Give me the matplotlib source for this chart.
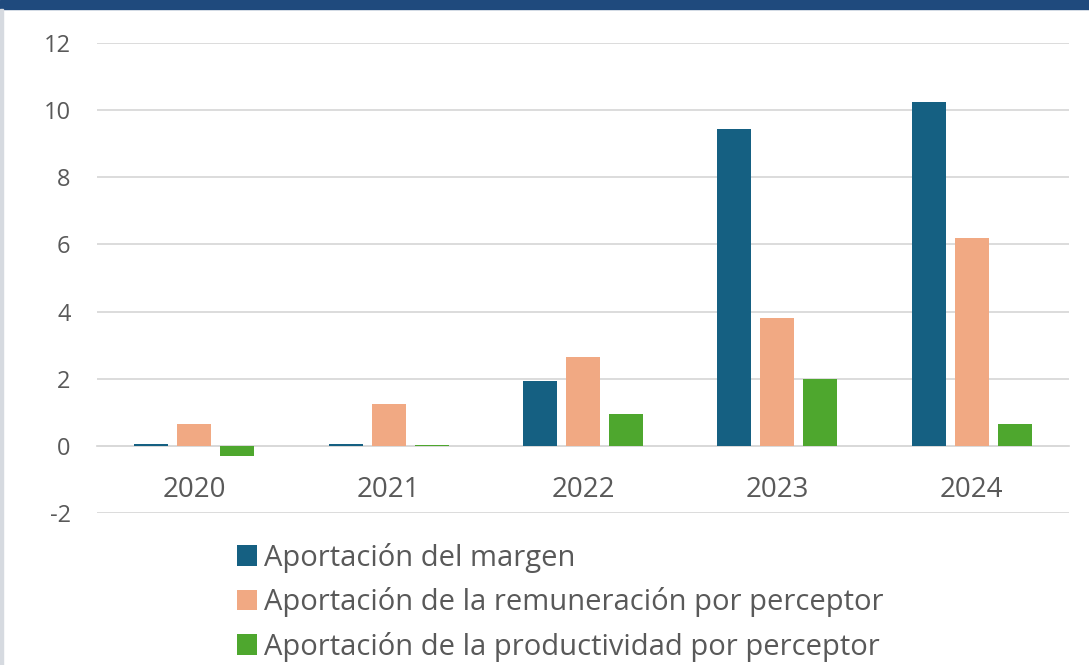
import matplotlib.pyplot as plt
import numpy as np
from matplotlib.patches import Rectangle

# DATA
years = ["2020", "2021", "2022", "2023", "2024"]
margen = [0.05, 0.05, 1.92, 9.43, 10.24]
remuneracion = [0.65, 1.25, 2.65, 3.81, 6.19]
productividad = [-0.30, 0.03, 0.95, 1.99, 0.65]
series_names = ["Aportación del margen",
                "Aportación de la remuneración por perceptor",
                "Aportación de la productividad por perceptor"]
colors = ["#156082", "#F1A983", "#4EA72E"]
y_ticks = [-2, 0, 2, 4, 6, 8, 10, 12]

plt.rcParams['font.family'] = ['Open Sans', 'DejaVu Sans']
text_color = "#595959"

fig = plt.figure(figsize=(10.89, 6.65), dpi=100)
# dark band on top and thin grey frame on the left
fig.patches.append(Rectangle((0, 1 - 9 / 665), 1, 9 / 665, transform=fig.transFigure,
                             color="#1F4A7D", zorder=0))
fig.patches.append(Rectangle((0, 0), 3 / 1089, 1 - 9 / 665, transform=fig.transFigure,
                             color="#D6DAE0", zorder=0))

ax = fig.add_axes([97 / 1089, 1 - 513 / 665, (1069 - 97) / 1089, (513 - 43) / 665])

x = np.arange(len(years))
step = 0.221
width = 0.175
handles = []
for i, (vals, name, c) in enumerate(zip([margen, remuneracion, productividad], series_names, colors)):
    b = ax.bar(x + (i - 1) * step, vals, width, color=c, label=name, zorder=3)
    handles.append(b)

ax.set_xlim(-0.5, len(years) - 0.5)
ax.set_ylim(-2, 12)
ax.set_yticks(y_ticks)
ax.set_yticklabels([str(t) for t in y_ticks])
ax.grid(axis='y', color="#D9D9D9", linewidth=1.3, zorder=0)
ax.set_axisbelow(True)

for s in ["top", "right", "left"]:
    ax.spines[s].set_visible(False)
ax.spines["bottom"].set_position(("data", 0))
ax.spines["bottom"].set_color("#D9D9D9")
ax.spines["bottom"].set_linewidth(1.3)

ax.set_xticks(x)
ax.set_xticklabels(years)
ax.tick_params(axis='x', length=0, pad=22, labelsize=20, colors=text_color)
ax.tick_params(axis='y', length=0, pad=19, labelsize=17, colors=text_color)

leg = fig.legend(handles=handles, loc="upper left", bbox_to_anchor=(225 / 1089, 1 - 531 / 665),
                 frameon=False, fontsize=21, handlelength=0.7, handleheight=0.7,
                 handletextpad=0.25, labelspacing=0.5, borderaxespad=0)
for t in leg.get_texts():
    t.set_color(text_color)

plt.savefig("out.png", dpi=100)
